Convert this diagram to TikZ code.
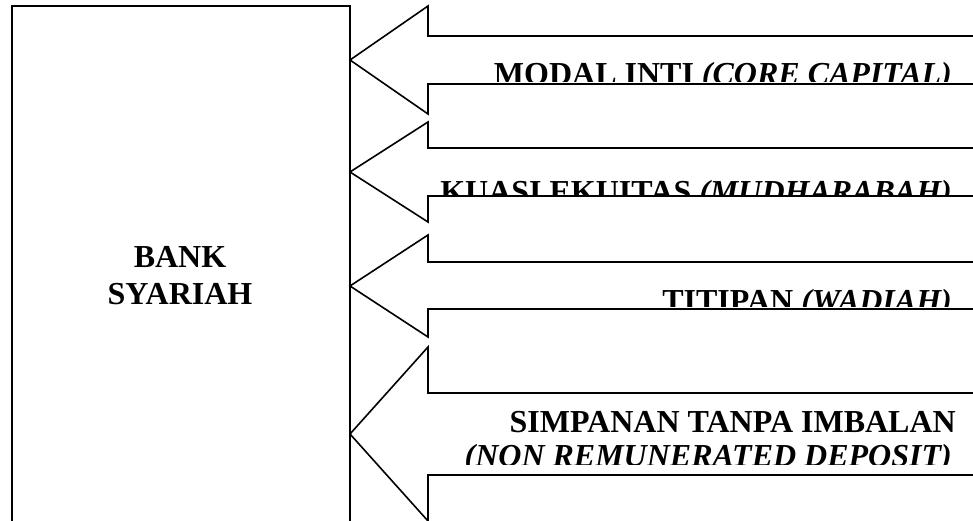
\documentclass[tikz,border=0pt]{standalone}
\usepackage{fontspec}
\setmainfont{Liberation Serif}
\begin{document}
\begin{tikzpicture}[x=1pt,y=1pt,
    boxline/.style={line width=2.4pt},
    bigarrow/.style={line width=1.6pt, line join=miter},
    bigtext/.style={inner sep=0pt, font=\bfseries\fontsize{32}{37}\selectfont},
    arrowtext/.style={bigtext, anchor=base east}]
  \clip (0,0) rectangle (973,521);
  \draw[boxline] (12,-10) -- (12,515) -- (350,515) -- (350,-10);
  \node[bigtext, align=center] (bank) at (180,245) {BANK\\SYARIAH};
  \draw[bigarrow] (980,485) -- (428,485) -- (428,515) -- (350,461) -- (428,407) -- (428,437) -- (980,437);
  \draw[bigarrow] (980,373) -- (428,373) -- (428,399) -- (350,349) -- (428,299) -- (428,325) -- (980,325);
  \draw[bigarrow] (980,259) -- (428,259) -- (428,286) -- (350,235) -- (428,184) -- (428,212) -- (980,212);
  \draw[bigarrow] (980,128) -- (428,128) -- (428,174) -- (350,87) -- (428,0) -- (428,46) -- (980,46);
  \begin{scope}
    \clip (430,485) rectangle (973,439);
    \node[arrowtext] (modal) at (952,436) {MODAL INTI \textit{(CORE CAPITAL)}};
  \end{scope}
  \begin{scope}
    \clip (430,373) rectangle (973,326);
    \node[arrowtext] (kuasi) at (952,318) {KUASI EKUITAS \textit{(MUDHARABAH)}};
  \end{scope}
  \begin{scope}
    \clip (430,259) rectangle (973,214);
    \node[arrowtext] (titipan) at (952,209) {TITIPAN \textit{(WADIAH)}};
  \end{scope}
  \begin{scope}
    \clip (430,128) rectangle (973,56);
    \node[arrowtext] (simpanan) at (956,88) {SIMPANAN TANPA IMBALAN};
    \node[arrowtext] (nonremun) at (952,54) {\textit{(NON REMUNERATED DEPOSIT)}};
  \end{scope}
\end{tikzpicture}
\end{document}
